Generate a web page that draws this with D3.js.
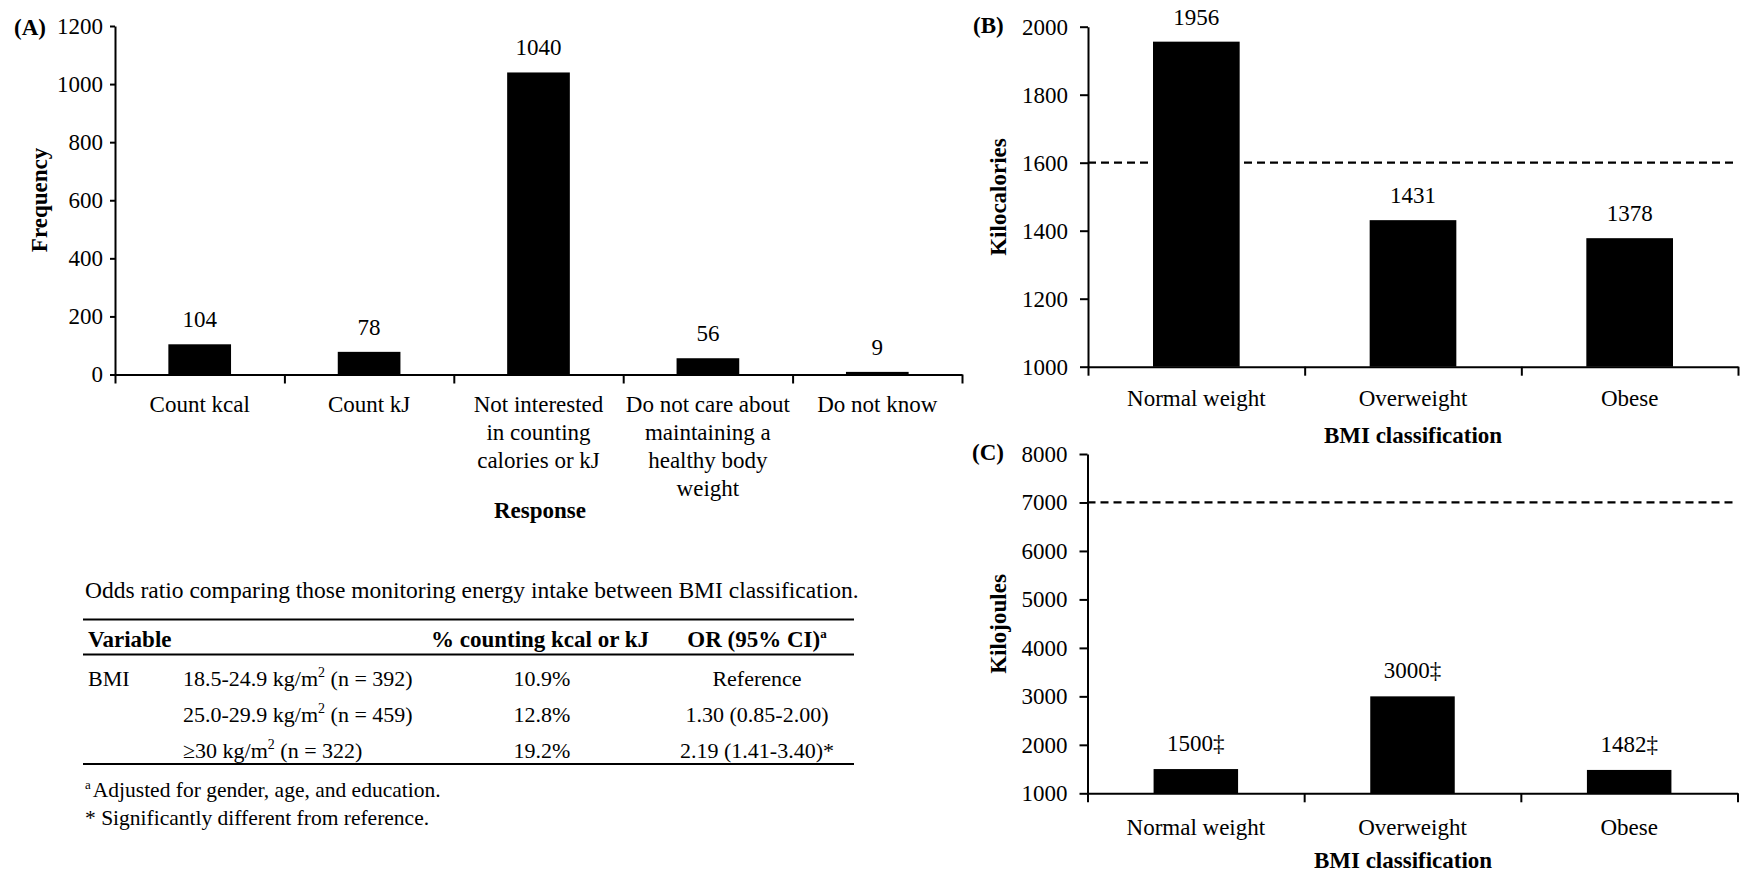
<!DOCTYPE html>
<html><head><meta charset="utf-8">
<script src="https://cdn.jsdelivr.net/npm/d3@7"></script>
<style>
body{margin:0;background:#fff;}
svg{display:block;}
</style></head><body>
<svg id="chart" width="1745" height="873"></svg>
<script>
// ---------- Data ----------
const responses = ["Count kcal", "Count kJ", "Not interested\nin counting\ncalories or kJ",
  "Do not care about\nmaintaining a\nhealthy body\nweight", "Do not know"];
const frequency = [104, 78, 1040, 56, 9];
const frequencyTicks = [0, 200, 400, 600, 800, 1000, 1200];

const bmiClasses = ["Normal weight", "Overweight", "Obese"];
const kcalIntake = [1956, 1431, 1378];
const kcalGuideline = 1600;
const kcalTicks = [1000, 1200, 1400, 1600, 1800, 2000];

const kjIntake = [1500, 3000, 1482];
const kjMarks = ["\u2021", "\u2021", "\u2021"];
const kjGuideline = 7000;
const kjTicks = [1000, 2000, 3000, 4000, 5000, 6000, 7000, 8000];

const tableTitle = "Odds ratio comparing those monitoring energy intake between BMI classification.";
const tableHeaders = ["Variable", "% counting kcal or kJ", "OR (95% CI)"];
const tableHeaderNote = "a";
const tableGroup = ["BMI", "", ""];
const bmiRanges = ["18.5-24.9 kg/m", "25.0-29.9 kg/m", "\u226530 kg/m"];
const bmiN = [392, 459, 322];
const pctCounting = ["10.9%", "12.8%", "19.2%"];
const oddsRatios = ["Reference", "1.30 (0.85-2.00)", "2.19 (1.41-3.40)*"];
const footnotes = ["Adjusted for gender, age, and education.", "* Significantly different from reference."];

// ---------- Drawing ----------
const svg = d3.select("#chart");
const FONT = "Liberation Serif, Times New Roman, serif";
svg.style("font-family", FONT);
const FS = 23;

function drawPanel(o) {
  const g = svg.append("g");
  const x = d3.scaleBand().domain(o.cats).range(o.xRange);
  const y = d3.scaleLinear().domain(o.yDomain).range(o.yRange);
  const bw = x.bandwidth() * o.barFrac;
  const cx = (i) => x(o.cats[i]) + x.bandwidth() / 2;

  if (o.guide != null) {
    g.append("line")
      .attr("x1", o.xRange[0]).attr("x2", o.xRange[1])
      .attr("y1", y(o.guide)).attr("y2", y(o.guide))
      .attr("stroke", "#000").attr("stroke-width", 2.2)
      .attr("stroke-dasharray", "8,5");
  }

  g.selectAll("rect.bar").data(o.vals).join("rect").attr("class", "bar")
    .attr("x", (d, i) => cx(i) - bw / 2)
    .attr("y", d => y(d))
    .attr("width", bw)
    .attr("height", d => y(o.yDomain[0]) - y(d))
    .attr("fill", "#000");

  g.selectAll("text.val").data(o.vals).join("text").attr("class", "val")
    .attr("x", (d, i) => cx(i))
    .attr("y", d => y(d) - o.labelGap)
    .attr("text-anchor", "middle").attr("font-size", FS)
    .text((d, i) => d + (o.marks ? o.marks[i] : ""));

  const yAxis = d3.axisLeft(y).tickValues(o.ticks).tickSizeInner(o.tickSize)
    .tickSizeOuter(0).tickPadding(o.tickPad).tickFormat(d3.format("d"));
  const gy = g.append("g").attr("transform", `translate(${o.xRange[0]},0)`).call(yAxis);
  gy.attr("font-family", null).attr("font-size", FS).style("font-family", FONT);
  gy.selectAll("path,line").attr("stroke-width", 2);

  const edge = d3.scaleLinear().domain([0, o.cats.length]).range(o.xRange);
  const xAxis = d3.axisBottom(edge).tickValues(d3.range(o.cats.length + 1))
    .tickSizeInner(o.xTickSize).tickSizeOuter(0).tickFormat("");
  const gx = g.append("g").attr("transform", `translate(0,${y(o.yDomain[0])})`).call(xAxis);
  gx.selectAll("path,line").attr("stroke-width", 2);

  const base = y(o.yDomain[0]) + o.catOffset;
  const cl = g.selectAll("text.cat").data(o.cats).join("text").attr("class", "cat")
    .attr("text-anchor", "middle").attr("font-size", FS);
  cl.each(function (d, i) {
    d3.select(this).selectAll("tspan").data(d.split("\n")).join("tspan")
      .attr("x", cx(i)).attr("y", (l, j) => base + j * o.lineH).text(l => l);
  });

  g.append("text").attr("x", o.xTitlePos[0]).attr("y", o.xTitlePos[1])
    .attr("text-anchor", "middle").attr("font-size", FS).attr("font-weight", "bold")
    .text(o.xTitle);
  g.append("text")
    .attr("transform", `translate(${o.yTitlePos[0]},${o.yTitlePos[1]}) rotate(-90)`)
    .attr("text-anchor", "middle").attr("font-size", FS).attr("font-weight", "bold")
    .text(o.yTitle);
  g.append("text").attr("x", o.letterPos[0]).attr("y", o.letterPos[1])
    .attr("font-size", FS).attr("font-weight", "bold").text(o.letter);
}

drawPanel({
  cats: responses, vals: frequency, ticks: frequencyTicks,
  xRange: [115, 962], yDomain: [0, 1200], yRange: [374.5, 26],
  barFrac: 0.37, tickSize: 5, tickPad: 7, xTickSize: 9, labelGap: 17,
  catOffset: 37, lineH: 28,
  xTitle: "Response", xTitlePos: [540, 518],
  yTitle: "Frequency", yTitlePos: [47, 200],
  letter: "(A)", letterPos: [14, 35]
});

drawPanel({
  cats: bmiClasses, vals: kcalIntake, ticks: kcalTicks, guide: kcalGuideline,
  xRange: [1088, 1738], yDomain: [1000, 2000], yRange: [366.7, 26.7],
  barFrac: 0.4, tickSize: 8, tickPad: 12, xTickSize: 9, labelGap: 17,
  catOffset: 39.5, lineH: 28,
  xTitle: "BMI classification", xTitlePos: [1413, 443],
  yTitle: "Kilocalories", yTitlePos: [1006, 197],
  letter: "(B)", letterPos: [973, 33]
});

drawPanel({
  cats: bmiClasses, vals: kjIntake, marks: kjMarks, ticks: kjTicks, guide: kjGuideline,
  xRange: [1087.5, 1737.5], yDomain: [1000, 8000], yRange: [793.3, 454],
  barFrac: 0.39, tickSize: 8, tickPad: 12, xTickSize: 9, labelGap: 18,
  catOffset: 41.5, lineH: 28,
  xTitle: "BMI classification", xTitlePos: [1403, 868],
  yTitle: "Kilojoules", yTitlePos: [1006, 624],
  letter: "(C)", letterPos: [972, 460]
});

// ---------- Table ----------
const t = svg.append("g");
const TFS = 22;
const ruleX = [83, 854];
t.append("text").attr("x", 85).attr("y", 598).attr("font-size", 23.5).text(tableTitle);
[619.5, 654.5, 764].forEach(yy => t.append("line")
  .attr("x1", ruleX[0]).attr("x2", ruleX[1]).attr("y1", yy).attr("y2", yy)
  .attr("stroke", "#000").attr("stroke-width", 2));

const colX = { group: 88, range: 183, pct: 540, or: 757 };
const headerY = 647;
t.append("text").attr("x", colX.group).attr("y", headerY).attr("font-size", 23)
  .attr("font-weight", "bold").text(tableHeaders[0]);
t.append("text").attr("x", colX.pct).attr("y", headerY).attr("font-size", 23)
  .attr("text-anchor", "middle").attr("font-weight", "bold").text(tableHeaders[1]);
const orh = t.append("text").attr("x", colX.or).attr("y", headerY).attr("font-size", 23)
  .attr("text-anchor", "middle").attr("font-weight", "bold");
orh.append("tspan").text(tableHeaders[2]);
orh.append("tspan").attr("dy", -9).attr("font-size", 13).text(tableHeaderNote);

const rowY = [686, 722, 758];
rowY.forEach((yy, i) => {
  t.append("text").attr("x", colX.group).attr("y", yy).attr("font-size", TFS).text(tableGroup[i]);
  const r = t.append("text").attr("x", colX.range).attr("y", yy).attr("font-size", TFS);
  r.append("tspan").text(bmiRanges[i]);
  r.append("tspan").attr("dy", -9).attr("font-size", 14).text("2");
  r.append("tspan").attr("dy", 9).text(` (n = ${bmiN[i]})`);
  t.append("text").attr("x", colX.pct + 2).attr("y", yy).attr("font-size", TFS)
    .attr("text-anchor", "middle").text(pctCounting[i]);
  t.append("text").attr("x", colX.or).attr("y", yy).attr("font-size", TFS)
    .attr("text-anchor", "middle").text(oddsRatios[i]);
});

const f1 = t.append("text").attr("x", 85).attr("y", 797).attr("font-size", 21.5);
f1.append("tspan").attr("dy", -8).attr("font-size", 13).text(tableHeaderNote);
f1.append("tspan").attr("dy", 8).attr("dx", 2).text(footnotes[0]);
t.append("text").attr("x", 85).attr("y", 825).attr("font-size", 21.5).text(footnotes[1]);

svg.selectAll("text").style("font-family", FONT);
</script>
</body></html>
